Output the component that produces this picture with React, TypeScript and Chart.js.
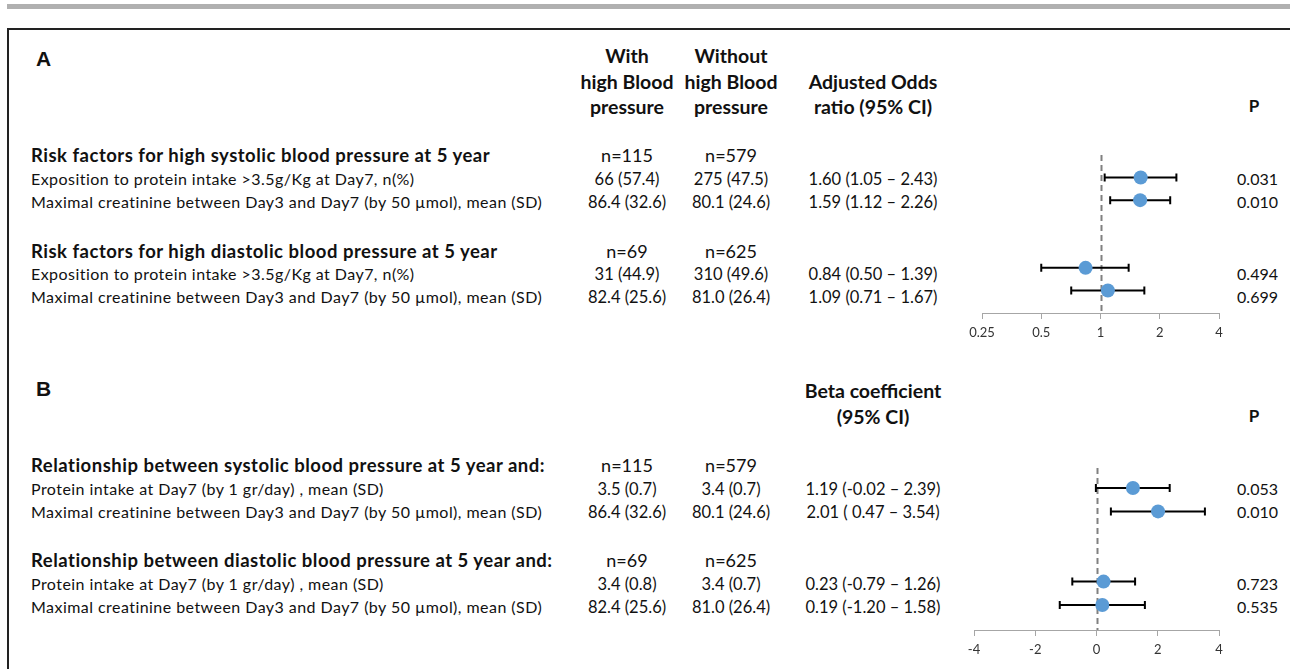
import React, { useEffect, useRef } from "react";
import { Chart, registerables } from "chart.js";

Chart.register(...registerables);

const FONT = "Lato, 'Open Sans', sans-serif";

// ---------- Panel A data ----------
const groupTitlesA = [
  "Risk factors for high systolic blood pressure at 5 year",
  "Risk factors for high diastolic blood pressure at 5 year",
];
const rowLabelsA = [
  "Exposition to protein intake >3.5g/Kg at Day7, n(%)",
  "Maximal creatinine between Day3 and Day7 (by 50 µmol), mean (SD)",
  "Exposition to protein intake >3.5g/Kg at Day7, n(%)",
  "Maximal creatinine between Day3 and Day7 (by 50 µmol), mean (SD)",
];
const nWithA = ["n=115", "n=69"];
const nWithoutA = ["n=579", "n=625"];
const withA = ["66 (57.4)", "86.4 (32.6)", "31 (44.9)", "82.4 (25.6)"];
const withoutA = ["275 (47.5)", "80.1 (24.6)", "310 (49.6)", "81.0 (26.4)"];
const ciTextA = ["1.60 (1.05 – 2.43)", "1.59 (1.12 – 2.26)", "0.84 (0.50 – 1.39)", "1.09 (0.71 – 1.67)"];
const pValuesA = ["0.031", "0.010", "0.494", "0.699"];
const orEstimate = [1.6, 1.59, 0.84, 1.09];
const orLower = [1.05, 1.12, 0.5, 0.71];
const orUpper = [2.43, 2.26, 1.39, 1.67];
const orTicks = [0.25, 0.5, 1, 2, 4];

// ---------- Panel B data ----------
const groupTitlesB = [
  "Relationship between systolic blood pressure at 5 year and:",
  "Relationship between diastolic blood pressure at 5 year and:",
];
const rowLabelsB = [
  "Protein intake at Day7 (by 1 gr/day) , mean (SD)",
  "Maximal creatinine between Day3 and Day7 (by 50 µmol), mean (SD)",
  "Protein intake at Day7 (by 1 gr/day) , mean (SD)",
  "Maximal creatinine between Day3 and Day7 (by 50 µmol), mean (SD)",
];
const nWithB = ["n=115", "n=69"];
const nWithoutB = ["n=579", "n=625"];
const withB = ["3.5 (0.7)", "86.4 (32.6)", "3.4 (0.8)", "82.4 (25.6)"];
const withoutB = ["3.4 (0.7)", "80.1 (24.6)", "3.4 (0.7)", "81.0 (26.4)"];
const ciTextB = ["1.19 (-0.02 – 2.39)", "2.01 ( 0.47 – 3.54)", "0.23 (-0.79 – 1.26)", "0.19 (-1.20 – 1.58)"];
const pValuesB = ["0.053", "0.010", "0.723", "0.535"];
const betaEstimate = [1.19, 2.01, 0.23, 0.19];
const betaLower = [-0.02, 0.47, -0.79, -1.2];
const betaUpper = [2.39, 3.54, 1.26, 1.58];
const betaTicks = [-4, -2, 0, 2, 4];

// forest row slots (gap row between the two groups)
const forestRows = [0, 1, 4, 5];

type TxtProps = {
  x: number;
  y: number;
  text: string;
  size?: number;
  bold?: boolean;
  align?: "left" | "center" | "right";
  family?: string;
  spacing?: number;
};

function Txt({ x, y, text, size = 15, bold = false, align = "left", family = FONT, spacing = 0 }: TxtProps) {
  const lh = Math.round(size * 1.4);
  const style: React.CSSProperties = {
    position: "absolute",
    top: y - lh / 2,
    lineHeight: lh + "px",
    fontSize: size,
    fontWeight: bold ? 700 : 400,
    fontFamily: family,
    whiteSpace: "nowrap",
    letterSpacing: spacing,
    color: "#111",
  };
  if (align === "left") style.left = x;
  else if (align === "right") style.right = 1290 - x;
  else {
    style.left = x;
    style.transform = "translateX(-50%)";
  }
  return <div style={style}>{text}</div>;
}

type ForestProps = {
  left: number;
  top: number;
  width: number;
  height: number;
  pad: { left: number; right: number; top: number; bottom: number };
  scaleType: "logarithmic" | "linear";
  min: number;
  max: number;
  yMin: number;
  yMax: number;
  ticks: number[];
  refValue: number;
  est: number[];
  low: number[];
  high: number[];
};

function Forest(p: ForestProps) {
  const ref = useRef<HTMLCanvasElement | null>(null);
  useEffect(() => {
    if (!ref.current) return;
    const errorBars = {
      id: "forestBars",
      beforeDatasetsDraw(chart: any) {
        const { ctx, chartArea, scales } = chart;
        const xs = scales.x;
        const ys = scales.y;
        ctx.save();
        const rx = Math.round(xs.getPixelForValue(p.refValue)) + 0.5;
        ctx.strokeStyle = "#808080";
        ctx.lineWidth = 2;
        ctx.setLineDash([6, 4]);
        ctx.beginPath();
        ctx.moveTo(rx, chartArea.top);
        ctx.lineTo(rx, chartArea.bottom);
        ctx.stroke();
        ctx.setLineDash([]);
        ctx.strokeStyle = "#000";
        ctx.lineWidth = 2;
        p.est.forEach((_, i) => {
          const y = ys.getPixelForValue(forestRows[i]);
          const x1 = xs.getPixelForValue(p.low[i]);
          const x2 = xs.getPixelForValue(p.high[i]);
          ctx.beginPath();
          ctx.moveTo(x1, y);
          ctx.lineTo(x2, y);
          ctx.moveTo(x1, y - 4);
          ctx.lineTo(x1, y + 4);
          ctx.moveTo(x2, y - 4);
          ctx.lineTo(x2, y + 4);
          ctx.stroke();
        });
        ctx.restore();
      },
    };
    const chart = new Chart(ref.current, {
      type: "scatter",
      data: {
        datasets: [
          {
            data: p.est.map((v, i) => ({ x: v, y: forestRows[i] })),
            backgroundColor: "#5b9bd5",
            borderWidth: 0,
            pointRadius: 7,
            pointHoverRadius: 7,
          },
        ],
      },
      options: {
        animation: false,
        responsive: false,
        maintainAspectRatio: false,
        events: [],
        layout: { padding: p.pad },
        plugins: { legend: { display: false }, tooltip: { enabled: false } },
        scales: {
          x: {
            type: p.scaleType,
            min: p.min,
            max: p.max,
            afterBuildTicks: (s: any) => {
              s.ticks = p.ticks.map((v) => ({ value: v }));
            },
            afterFit: (s: any) => {
              s.height = 40;
            },
            grid: { drawOnChartArea: false, drawTicks: true, tickLength: 6, color: "#a6a6a6", lineWidth: 1 },
            border: { display: true, color: "#a6a6a6", width: 1 },
            ticks: {
              callback: (v: any) => String(v),
              font: { family: FONT, size: 13 },
              color: "#333",
              padding: 6,
              maxRotation: 0,
              autoSkip: false,
            },
          },
          y: { type: "linear", display: false, reverse: true, min: p.yMin, max: p.yMax },
        },
      } as any,
      plugins: [errorBars],
    });
    return () => chart.destroy();
  }, []);
  return (
    <canvas
      ref={ref}
      width={p.width}
      height={p.height}
      style={{ position: "absolute", left: p.left, top: p.top, width: p.width, height: p.height }}
    />
  );
}

export default function App() {
  const colWith = 627;
  const colWithout = 731;
  const colCI = 873;
  const pRight = 1278;
  const headSize = 18.5;
  const headSpacing = 0.5;
  const hdrSize = 19.5;
  const labelSize = 16;
  const labelSpacing = 0.45;
  const numSize = 16.5;
  const nSize = 18;
  const pSize = 16;

  const rowsYA = [179, 202, 274, 297];
  const groupYA = [155, 251];
  const rowsYB = [489, 512, 584, 607];
  const groupYB = [465, 560];

  return (
    <div
      style={{
        position: "fixed",
        left: 0,
        top: 0,
        width: 1290,
        height: 669,
        background: "#fff",
        overflow: "hidden",
        fontFamily: FONT,
      }}
    >
      <div style={{ position: "absolute", left: 7, top: 4, width: 1300, height: 5, background: "#b0b0b0" }} />
      <div
        style={{
          position: "absolute",
          left: 7,
          top: 28,
          width: 1300,
          height: 700,
          border: "2px solid #222",
          boxSizing: "border-box",
        }}
      />

      {/* Panel A headers */}
      <Txt x={36} y={58} text="A" size={21} bold family="'Liberation Sans', Arial, sans-serif" />
      <Txt x={colWith} y={55} text="With" size={hdrSize} bold align="center" />
      <Txt x={colWith} y={81} text="high Blood" size={hdrSize} bold align="center" />
      <Txt x={colWith} y={106} text="pressure" size={hdrSize} bold align="center" />
      <Txt x={colWithout} y={55} text="Without" size={hdrSize} bold align="center" />
      <Txt x={colWithout} y={81} text="high Blood" size={hdrSize} bold align="center" />
      <Txt x={colWithout} y={106} text="pressure" size={hdrSize} bold align="center" />
      <Txt x={colCI} y={81} text="Adjusted Odds" size={hdrSize} bold align="center" />
      <Txt x={colCI} y={106} text="ratio (95% CI)" size={hdrSize} bold align="center" />
      <Txt x={1254} y={106} text="P" size={17} bold align="center" />

      {groupTitlesA.map((t, g) => (
        <React.Fragment key={"ga" + g}>
          <Txt x={31} y={groupYA[g]} text={t} size={headSize} spacing={headSpacing} bold />
          <Txt x={colWith} y={groupYA[g]} text={nWithA[g]} size={nSize} align="center" />
          <Txt x={colWithout} y={groupYA[g]} text={nWithoutA[g]} size={nSize} align="center" />
        </React.Fragment>
      ))}
      {rowLabelsA.map((t, i) => (
        <React.Fragment key={"ra" + i}>
          <Txt x={31} y={rowsYA[i]} text={t} size={labelSize} spacing={labelSpacing} />
          <Txt x={colWith} y={rowsYA[i]} text={withA[i]} size={numSize} align="center" />
          <Txt x={colWithout} y={rowsYA[i]} text={withoutA[i]} size={numSize} align="center" />
          <Txt x={colCI} y={rowsYA[i]} text={ciTextA[i]} size={numSize} align="center" />
          <Txt x={pRight} y={rowsYA[i]} text={pValuesA[i]} size={pSize} align="right" />
        </React.Fragment>
      ))}

      {/* Panel B headers */}
      <Txt x={36} y={388} text="B" size={21} bold family="'Liberation Sans', Arial, sans-serif" />
      <Txt x={colCI} y={390} text="Beta coefficient" size={hdrSize} bold align="center" />
      <Txt x={colCI} y={416} text="(95% CI)" size={hdrSize} bold align="center" />
      <Txt x={1254} y={416} text="P" size={17} bold align="center" />

      {groupTitlesB.map((t, g) => (
        <React.Fragment key={"gb" + g}>
          <Txt x={31} y={groupYB[g]} text={t} size={headSize} spacing={headSpacing} bold />
          <Txt x={colWith} y={groupYB[g]} text={nWithB[g]} size={nSize} align="center" />
          <Txt x={colWithout} y={groupYB[g]} text={nWithoutB[g]} size={nSize} align="center" />
        </React.Fragment>
      ))}
      {rowLabelsB.map((t, i) => (
        <React.Fragment key={"rb" + i}>
          <Txt x={31} y={rowsYB[i]} text={t} size={labelSize} spacing={labelSpacing} />
          <Txt x={colWith} y={rowsYB[i]} text={withB[i]} size={numSize} align="center" />
          <Txt x={colWithout} y={rowsYB[i]} text={withoutB[i]} size={numSize} align="center" />
          <Txt x={colCI} y={rowsYB[i]} text={ciTextB[i]} size={numSize} align="center" />
          <Txt x={pRight} y={rowsYB[i]} text={pValuesB[i]} size={pSize} align="right" />
        </React.Fragment>
      ))}

      <Forest
        left={955}
        top={140}
        width={290}
        height={215}
        pad={{ left: 27, right: 26, top: 15, bottom: 2 }}
        scaleType="logarithmic"
        min={0.25}
        max={4}
        yMin={-1}
        yMax={6}
        ticks={orTicks}
        refValue={1}
        est={orEstimate}
        low={orLower}
        high={orUpper}
      />
      <Forest
        left={948}
        top={450}
        width={297}
        height={222}
        pad={{ left: 26, right: 26, top: 18, bottom: 2 }}
        scaleType="linear"
        min={-4}
        max={4}
        yMin={-0.855}
        yMax={6.07}
        ticks={betaTicks}
        refValue={0}
        est={betaEstimate}
        low={betaLower}
        high={betaUpper}
      />
    </div>
  );
}
